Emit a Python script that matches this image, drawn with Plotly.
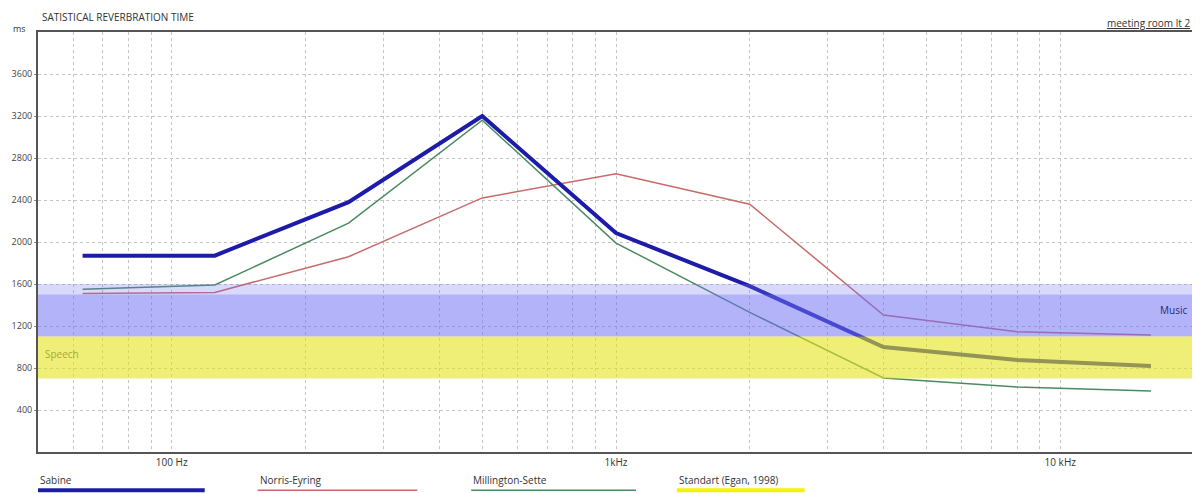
import plotly.graph_objects as go

# ---- data ----
freqs = [63, 125, 250, 500, 1000, 2000, 4000, 8000, 16000]
sabine = [1870, 1870, 2380, 3200, 2085, 1580, 1000, 876, 820]
norris_eyring = [1510, 1520, 1860, 2420, 2650, 2360, 1305, 1145, 1115]
millington_sette = [1550, 1590, 2180, 3160, 1990, 1330, 705, 620, 580]

music_band = [1100, 1600]
music_core = [1100, 1500]
speech_band = [700, 1100]

y_ticks = [400, 800, 1200, 1600, 2000, 2400, 2800, 3200, 3600]
x_grid = [60, 70, 80, 90, 100, 200, 300, 400, 500, 600, 700, 800, 900, 1000,
          2000, 3000, 4000, 5000, 6000, 7000, 8000, 9000, 10000]
x_labels = {100: "100 Hz", 1000: "1kHz", 10000: "10 kHz"}

legend_names = ["Sabine", "Norris-Eyring", "Millington-Sette", "Standart (Egan, 1998)"]
legend_colors = ["#1c1ca8", "#c86a6a", "#4a8a60", "#f4f400"]
legend_widths = [4, 1.5, 1.5, 4]

FONT = "Open Sans"
fig = go.Figure()

fig.add_trace(go.Scatter(x=freqs, y=norris_eyring, mode="lines",
                         line=dict(color="#c86a6a", width=1.5), name="Norris-Eyring"))
fig.add_trace(go.Scatter(x=freqs, y=millington_sette, mode="lines",
                         line=dict(color="#4a8a60", width=1.5), name="Millington-Sette"))
fig.add_trace(go.Scatter(x=freqs, y=sabine, mode="lines",
                         line=dict(color="#1c1ca8", width=4), name="Sabine"))

# bands (drawn above the curves, semi-transparent)
fig.add_shape(type="rect", xref="paper", x0=0, x1=1, y0=music_band[0], y1=music_band[1],
              fillcolor="rgb(120,120,245)", opacity=0.28, line_width=0, layer="above")
fig.add_shape(type="rect", xref="paper", x0=0, x1=1, y0=music_core[0], y1=music_core[1],
              fillcolor="rgb(110,110,245)", opacity=0.35, line_width=0, layer="above")
fig.add_shape(type="rect", xref="paper", x0=0, x1=1, y0=speech_band[0], y1=speech_band[1],
              fillcolor="rgb(228,228,30)", opacity=0.6, line_width=0, layer="above")

fig.add_annotation(xref="paper", x=0.996, y=1350, text="Music", showarrow=False,
                   xanchor="right", font=dict(family=FONT, size=10, color="#2a2a70"))
fig.add_annotation(xref="paper", x=0.004, y=930, text="Speech", showarrow=False,
                   xanchor="left", font=dict(family=FONT, size=10, color="#a8a838"))

# titles
fig.add_annotation(xref="paper", yref="paper", x=0.0015, y=1.036, text="SATISTICAL REVERBRATION TIME",
                   showarrow=False, xanchor="left", yanchor="middle",
                   font=dict(family=FONT, size=10, color="#333"))
fig.add_annotation(xref="paper", yref="paper", x=-0.0235, y=1.008, text="ms",
                   showarrow=False, xanchor="left", yanchor="middle",
                   font=dict(family=FONT, size=9, color="#333"))
fig.add_annotation(xref="paper", yref="paper", x=0.998, y=1.0, text="<u>meeting room lt 2</u>",
                   showarrow=False, xanchor="right", yanchor="bottom",
                   font=dict(family=FONT, size=10, color="#333"))

# custom legend (pixel positions in the plot frame)
leg_x = [(38, 205), (258, 418), (472, 637), (678, 806)]
for name, col, w, (a, b) in zip(legend_names, legend_colors, legend_widths, leg_x):
    x0 = (a - 38) / 1158
    x1 = (b - 38) / 1158
    fig.add_annotation(xref="paper", yref="paper", x=x0, y=-0.067, text=name,
                       showarrow=False, xanchor="left", yanchor="middle",
                       font=dict(family=FONT, size=10, color="#333"))
    fig.add_shape(type="line", xref="paper", yref="paper", x0=x0, x1=x1, y0=-0.091, y1=-0.091,
                  line=dict(color=col, width=w))

fig.update_xaxes(type="log", range=[1.69897, 4.30103],
                 tickvals=x_grid, ticktext=[x_labels.get(v, "") for v in x_grid],
                 showgrid=True, gridcolor="#c4c4c4", griddash="dot", gridwidth=1,
                 showline=True, linecolor="#555", linewidth=2, mirror=True,
                 ticks="", tickfont=dict(family=FONT, size=10, color="#333"),
                 zeroline=False)
fig.update_yaxes(range=[0, 4000], tickvals=y_ticks, ticktext=[str(v) for v in y_ticks],
                 showgrid=True, gridcolor="#c4c4c4", griddash="dot", gridwidth=1,
                 showline=True, linecolor="#555", linewidth=2, mirror=True,
                 ticks="outside", ticklen=2, tickcolor="#888",
                 tickfont=dict(family=FONT, size=9, color="#444"), zeroline=False)

# page body has an 8px margin, so the figure is sized to fill the 1200x493 window
fig.update_layout(width=1192, height=485, margin=dict(l=30, r=4, t=24, b=41),
                  paper_bgcolor="white", plot_bgcolor="white", showlegend=False)

fig.write_html("out.html")
